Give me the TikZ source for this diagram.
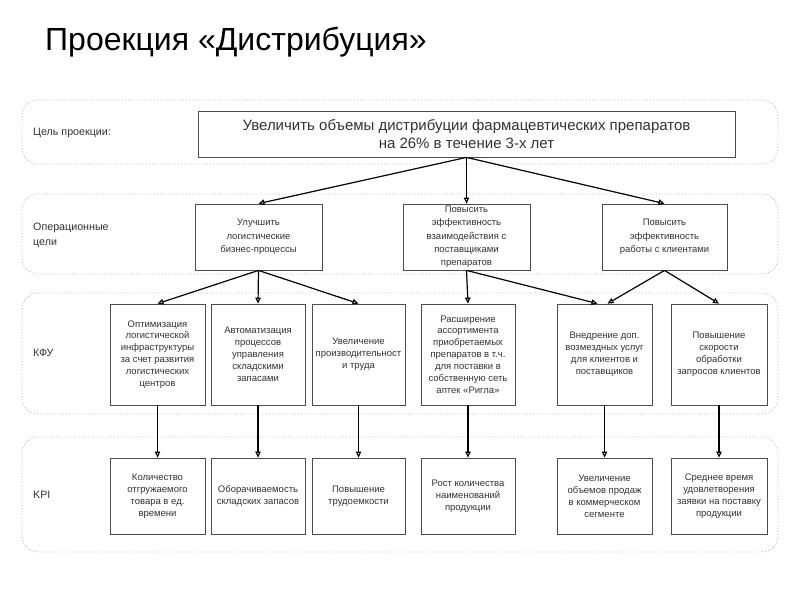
\documentclass[tikz,border=0pt]{standalone}
\usepackage{fontspec}
\setmainfont{Liberation Sans}
\usetikzlibrary{arrows.meta}
\definecolor{bandcol}{HTML}{A9BAD3}
\tikzset{
  band/.style={draw=bandcol, dotted, line width=0.9pt, rounded corners=16pt},
  box/.style={draw=black!70, line width=0.8pt, fill=white, align=center, inner sep=1pt,
     font=\fontsize{9.5}{11.9}\selectfont, text=black!80},
  opbox/.style={box, font=\fontsize{9.5}{13.3}\selectfont},
  lbl/.style={anchor=west, align=left, font=\fontsize{10.7}{15}\selectfont, text=black!80, inner sep=0pt},
  arr/.style={line width=1.2pt, -{Triangle[open, length=6pt, width=5.5pt]}},
}
\begin{document}
\begin{tikzpicture}[x=1pt,y=-1pt]
\useasboundingbox (0,0) rectangle (800,600);
\fill[white] (0,0) rectangle (800,600);
% title
\node[anchor=west, inner sep=0pt, font=\fontsize{32}{36}\selectfont] (title) at (45,42) {Проекция «Дистрибуция»};
% bands
\draw[band] (22,100) rectangle (778,164);
\draw[band] (22,194) rectangle (778,274);
\draw[band] (22,293) rectangle (778,414);
\draw[band] (22,437) rectangle (778,552);
% labels
\node[lbl] (l1) at (33,133) {Цель проекции:};
\node[lbl] (l2) at (33,235.5) {Операционные\\цели};
\node[lbl] (l3) at (33,353) {КФУ};
\node[lbl] (l4) at (33,495) {KPI};
% top goal
\node[box, minimum width=537pt, minimum height=46pt, font=\fontsize{15}{18}\selectfont] (top) at (466.5,134)
  {Увеличить объемы дистрибуции фармацевтических препаратов\\на 26\% в течение 3-х лет};
% operational goals
\node[opbox, minimum width=127pt, minimum height=66pt] (o1) at (258.5,237) {Улучшить\\логистические\\бизнес-процессы};
\node[opbox, minimum width=127pt, minimum height=66pt] (o2) at (466.5,237) {Повысить\\эффективность\\взаимодействия с\\поставщиками\\препаратов};
\node[opbox, minimum width=125pt, minimum height=66pt] (o3) at (664.5,237) {Повысить\\эффективность\\работы с клиентами};
% KFU
\node[box, minimum width=95pt, minimum height=101pt] (k1) at (157.5,354.5) {Оптимизация\\логистической\\инфраструктуры\\за счет развития\\логистических\\центров};
\node[box, minimum width=94pt, minimum height=101pt] (k2) at (258,354.5) {Автоматизация\\процессов\\управления\\складскими\\запасами};
\node[box, minimum width=93pt, minimum height=101pt] (k3) at (358.5,354.5) {Увеличение\\производительност\\и труда};
\node[box, minimum width=94pt, minimum height=101pt] (k4) at (468,354.5) {Расширение\\ассортимента\\приобретаемых\\препаратов в т.ч.\\для поставки в\\собственную сеть\\аптек «Ригла»};
\node[box, minimum width=95pt, minimum height=101pt] (k5) at (604.5,354.5) {Внедрение доп.\\возмездных услуг\\для клиентов и\\поставщиков};
\node[box, minimum width=96pt, minimum height=101pt] (k6) at (719,354.5) {Повышение\\скорости\\обработки\\запросов клиентов};
% KPI
\node[box, minimum width=95pt, minimum height=76pt] (p1) at (157.5,496) {Количество\\отгружаемого\\товара в ед.\\времени};
\node[box, minimum width=94pt, minimum height=76pt] (p2) at (258,496) {Оборачиваемость\\складских запасов};
\node[box, minimum width=93pt, minimum height=76pt] (p3) at (358.5,496) {Повышение\\трудоемкости};
\node[box, minimum width=94pt, minimum height=76pt] (p4) at (468,496) {Рост количества\\наименований\\продукции};
\node[box, minimum width=95pt, minimum height=76pt] (p5) at (604.5,496) {Увеличение\\объемов продаж\\в коммерческом\\сегменте};
\node[box, minimum width=96pt, minimum height=76pt] (p6) at (719,496) {Среднее время\\удовлетворения\\заявки на поставку\\продукции};
% arrows
\draw[arr] (top.south) -- (o1.north);
\draw[arr] (top.south) -- (o2.north);
\draw[arr] (top.south) -- (o3.north);
\draw[arr] (o1.south) -- (k1.north);
\draw[arr] (o1.south) -- (k2.north);
\draw[arr] (o1.south) -- (k3.north);
\draw[arr] (o2.south) -- (k4.north);
\draw[arr] (o2.south) -- ([xshift=-7pt]k5.north);
\draw[arr] (o3.south) -- ([xshift=3pt]k5.north);
\draw[arr] (o3.south) -- (k6.north);
\foreach \i in {1,...,6} { \draw[arr] (k\i.south) -- (p\i.north); }
\end{tikzpicture}
\end{document}
